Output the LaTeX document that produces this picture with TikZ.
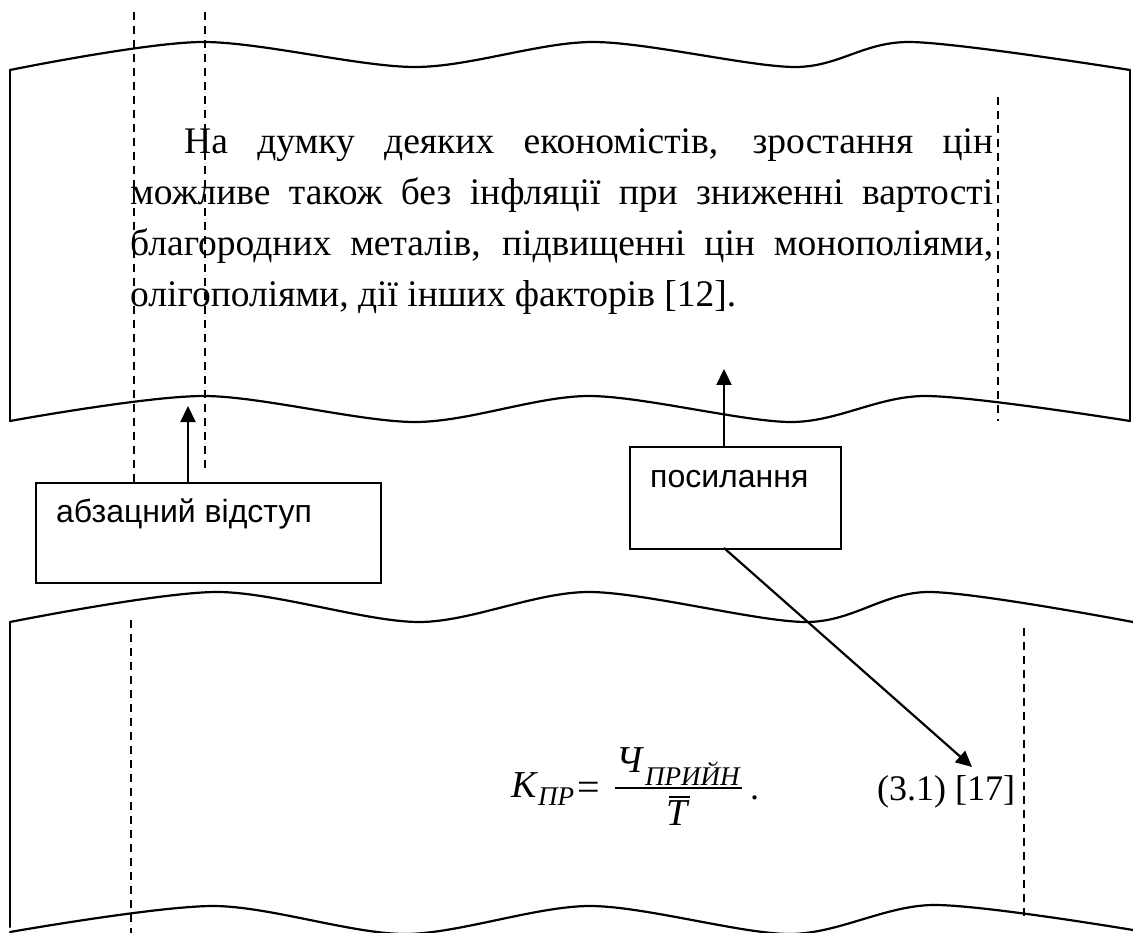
\documentclass[tikz,border=0pt]{standalone}
\usepackage{fontspec}
\setmainfont{Liberation Serif}
\newfontfamily\arialf{Liberation Sans}
\usetikzlibrary{arrows.meta}
\begin{document}
\begin{tikzpicture}[x=1pt,y=-1pt,
  wave/.style={line width=2.2pt,line join=round,line cap=round},
  guide/.style={dash pattern=on 8pt off 6pt,line width=1.3pt},
  box/.style={draw,line width=2.2pt,inner sep=0pt,anchor=north west},
  boxtext/.style={font=\arialf\fontsize{32}{38}\selectfont,inner sep=0pt,anchor=base west},
  para/.style={font=\fontsize{37.5}{44}\selectfont,inner sep=0pt,anchor=base west},
  fbig/.style={font=\fontsize{38}{44}\selectfont\itshape,inner sep=0pt,anchor=base west},
  fsub/.style={font=\fontsize{27}{32}\selectfont\itshape,inner sep=0pt,anchor=base west},
  fup/.style={font=\fontsize{36}{42}\selectfont,inner sep=0pt,anchor=base west},
  arr/.style={line width=2.2pt,-{Triangle[length=16pt,width=15pt]}}]
\useasboundingbox (0,0) rectangle (1133,933);

% top panel
\draw[wave] (10,421) -- (10,70);
\draw[wave] (1130,421) -- (1130,70);
\draw[wave] plot[smooth] coordinates {(10,70) (202,42) (415,67) (593,42) (795,67) (910,42) (1130,70)};
\draw[wave] plot[smooth] coordinates {(10,421) (204,396) (415,422) (589,396) (791,422) (925,396) (1130,421)};

% bottom panel
\draw[wave] (10,927) -- (10,622);
\draw[wave] plot[smooth] coordinates {(10,622) (217,592) (419,622) (589,592) (806,622) (929,592) (1133,622)};
\draw[wave] plot[smooth] coordinates {(10,932) (214,906) (405,934) (590,906) (790,934) (933,905) (1133,930)};

% guide lines
\draw[guide] (134,12) -- (134,482);
\draw[guide] (205,12) -- (205,468);
\draw[guide] (998,97) -- (998,421);
\draw[guide] (131,620) -- (131,933);
\draw[guide] (1024,628) -- (1024,918);

% paragraph
\node[para] (l1) at (184,154) {\makebox[809pt][s]{На думку деяких економістів, зростання цін}};
\node[para] (l2) at (130,205) {\makebox[863pt][s]{можливе також без інфляції при зниженні вартості}};
\node[para] (l3) at (130,256) {\makebox[863pt][s]{благородних металів, підвищенні цін монополіями,}};
\node[para] (l4) at (130,307) {олігополіями, дії інших факторів [12].};

% boxes
\node[box,minimum width=345pt,minimum height=100pt] (b1) at (35,482) {};
\node[boxtext] (t1) at (56,522) {абзацний відступ};
\node[box,minimum width=211pt,minimum height=102pt] (b2) at (629,446) {};
\node[boxtext] (t2) at (650,487) {посилання};

% formula
\node[fbig] (K) at (511,797) {K};
\node[fsub] (Ksub) at (538,805) {ПР};
\node[fup,font=\fontsize{40}{44}\selectfont] (eq) at (577,800) {=};
\node[fbig] (Ch) at (616,772) {Ч};
\node[fsub] (Chsub) at (645,785) {ПРИЙН};
\draw[line width=1.6pt] (615,788) -- (742,788);
\node[fbig] (T) at (666,825) {T};
\draw[line width=1.6pt] (669,797) -- (690,797);
\node[fup] (dot) at (750,799) {.};
\node[fup] (num) at (877,800) {(3.1) [17]};

% arrows
\coordinate (a1tip) at (188,406);
\coordinate (a2tip) at (724,369);
\coordinate (a3s) at (724,548);
\coordinate (a3tip) at (972,767);
\draw[arr] (b1.north -| a1tip) -- (a1tip);
\draw[arr] (b2.north -| a2tip) -- (a2tip);
\draw[arr] (a3s) -- (a3tip);
\end{tikzpicture}
\end{document}
